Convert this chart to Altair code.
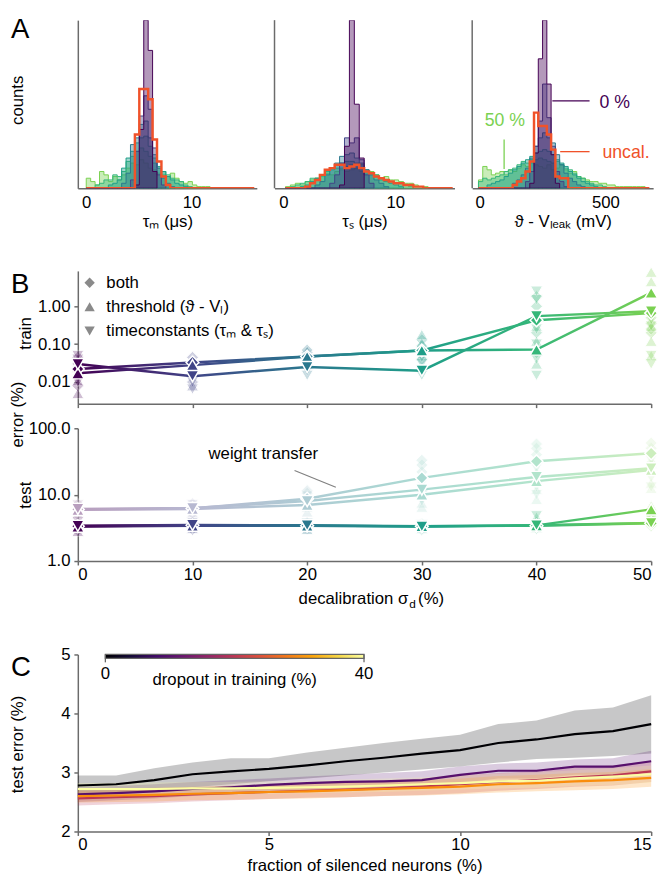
import altair as alt
import pandas as pd

FONT = "Liberation Sans"
AXC = "#6b6b6b"
FS = 17

# ---------------- Panel A: histogram bin counts (relative units) ----------------
level_names = ["0 %", "10 %", "20 %", "30 %", "40 %", "50 %"]
level_colors = ["#440154", "#414487", "#2a788e", "#1f9e89", "#35b779", "#7ad151"]
uncal_color = "#f0522a"

tm_edge0, tm_width = 0.0, 0.42
tm_0 = [0,0,0,0,0,0,0,0,0,0,0,2,35,100,82,10]
tm_10 = [0,0,0,0,0,0,0,0,0,0,5,22,43,55,47,24,8,2]
tm_20 = [0,0,0,0,0,0,0,0,3,9,26,30,38,40,30,20,12,6,3,1]
tm_30 = [0,0,0,0,0,2,3,5,12,18,22,27,30,31,25,18,13,10,7,5,3,2,1]
tm_40 = [0,0,2,3,5,5,8,7,10,16,19,22,24,22,19,15,12,10,8,6,5,4,2,1]
tm_50 = [6,4,2,10,8,4,7,5,8,12,15,14,17,15,12,11,9,8,7,9,6,4,3,4,2,1,1,1]
tm_uncal = [0,0,0,0,0,0,0,0,0,0,0,32,59,59,53,29,16,7,2,0,0,0,0,0,0,0,0,0,0,0,0,0,0,0,0,0,0,0]

ts_edge0, ts_width = 0.18, 0.44
ts_0 = [0,0,0,0,0,0,0,0,0,0,0,2,25,100,50,18]
ts_10 = [0,0,0,0,0,0,0,0,0,3,8,15,30,27,30,17,8,3]
ts_20 = [0,0,0,0,0,0,2,4,8,12,15,19,20,21,18,15,11,8,5,3,1]
ts_30 = [0,0,0,1,2,4,6,8,11,12,14,15,16,16,15,14,11,9,7,5,4,3,2,1]
ts_40 = [0,1,2,3,4,6,6,8,10,11,12,12,13,14,12,12,10,9,8,6,5,4,3,2,2,1]
ts_50 = [1,2,3,2,4,5,6,7,9,8,10,11,10,11,12,10,9,10,8,6,7,5,5,4,3,3,2,1,1]
ts_uncal = [0,0,0,0,1,3,5,8,11,12,14,14,12,13,14,12,10,9,7,6,5,4,3,3,2,2,1,1,0,0,0,0,0,0]

th_edge0, th_width = -5.0, 17.0
th_0 = [0,0,0,0,0,0,0,0,0,0,0,0,3,21,77,100,62,20,3]
th_10 = [0,0,0,0,0,0,0,0,0,0,0,4,10,25,40,62,42,25,10,4,1]
th_20 = [0,0,0,0,0,0,0,0,3,5,8,12,18,25,30,33,30,27,20,14,9,6,4,2,1]
th_30 = [0,0,2,3,4,5,7,9,11,13,15,17,19,21,22,23,22,20,17,15,13,10,8,6,4,3,2,1]
th_40 = [4,6,5,6,7,8,10,11,12,14,16,15,17,17,18,17,16,15,16,14,12,11,9,7,6,4,3,2,2,1]
th_50 = [5,13,11,8,9,10,8,11,10,12,14,13,15,14,13,12,14,11,12,14,11,9,10,7,6,5,4,4,3,3,2,2,1,1,1,1,1,1,1]
th_uncal = [0,0,0,0,0,0,0,0,2,4,6,10,16,45,37,37,32,23,7,6,6,0,0,0,0,0,0,0,0,0,0,0,0,0,0,0,0,0,0,0]

# ---------------- Panel B ----------------
decal = [0, 10, 20, 30, 40, 50]
series_names = ["both", "threshold", "timeconstants"]
train_both = [0.022, 0.033, 0.047, 0.068, 0.43, 0.66]
train_thr = [0.017, 0.028, 0.047, 0.068, 0.072, 2.3]
train_tc = [0.030, 0.0143, 0.025, 0.020, 0.55, 0.74]
train_both_runs = [[0.008,0.014,0.03,0.045],[0.01,0.02,0.045],[0.035,0.06,0.07],[0.04,0.09,0.13],[0.06,0.2,1.0,1.8],[0.2,0.25,0.35,0.5]]
train_thr_runs = [[0.005,0.011,0.025,0.04],[0.008,0.018,0.04],[0.03,0.055,0.065],[0.05,0.11,0.18],[0.03,0.12,0.3],[0.05,0.12,0.3,4.5,8.0]]
train_tc_runs = [[0.01,0.02,0.04,0.05],[0.0065,0.01,0.02],[0.015,0.02,0.035],[0.015,0.03,0.045],[0.015,0.04,0.1,0.25,1.5,2.5],[0.03,0.05,0.3,0.45]]

test_both = [3.35, 3.45, 3.40, 3.35, 3.40, 3.70]
test_thr = [3.30, 3.40, 3.40, 3.35, 3.45, 6.00]
test_tc = [3.40, 3.50, 3.45, 3.30, 3.45, 3.75]
wt_both = [6.0, 6.2, 8.7, 17.9, 31.8, 42.0]
wt_thr = [5.9, 6.1, 7.0, 10.0, 16.0, 23.5]
wt_tc = [6.1, 6.3, 8.0, 11.9, 18.5, 25.0]
test_both_runs = [[2.9,3.8],[3.0,3.8],[3.1,3.7],[3.0,3.6],[3.1,3.8],[3.4,4.0]]
test_thr_runs = [[2.8,3.8],[3.1,3.7],[3.0,3.8],[3.1,3.6],[3.2,4.6],[4.8,5.5,6.8]]
test_tc_runs = [[3.0,3.9],[3.1,3.8],[3.1,3.7],[3.0,3.5],[3.1,4.8],[3.3,4.2]]
wt_both_runs = [[5.0,7.2],[5.2,7.3],[7.5,10.5,11.5],[9,22,28,33],[20,40,50,58],[30,50,60]]
wt_thr_runs = [[5.2,6.8],[5.4,6.9],[5.5,6.5],[6.5,7.5,13],[8.5,12,22],[12.5,15,30]]
wt_tc_runs = [[5.4,7.0],[5.5,7.1],[6.5,9.5],[8.0,14.5],[10,13,25],[13,18,33]]

# ---------------- Panel C ----------------
silenced = [0,1,2,3,4,5,6,7,8,9,10,11,12,13,14,15]
dropout_levels = [0, 10, 20, 30, 40]
c0_mean = [2.78,2.80,2.87,2.97,3.02,3.06,3.12,3.19,3.25,3.32,3.38,3.50,3.56,3.65,3.70,3.82]
c0_hi = [2.95,2.95,3.07,3.17,3.24,3.24,3.34,3.42,3.50,3.57,3.64,3.82,3.88,4.05,4.10,4.31]
c0_lo = [2.63,2.65,2.68,2.75,2.80,2.85,2.90,2.95,3.00,3.05,3.10,3.17,3.23,3.25,3.28,3.32]
c10_mean = [2.63,2.65,2.68,2.72,2.75,2.79,2.82,2.84,2.85,2.87,2.96,3.03,3.03,3.10,3.10,3.19]
c10_hi = [2.75,2.77,2.80,2.84,2.87,2.90,2.93,2.96,2.99,3.02,3.10,3.15,3.17,3.22,3.24,3.37]
c10_lo = [2.50,2.53,2.56,2.60,2.63,2.67,2.70,2.72,2.73,2.74,2.82,2.90,2.90,2.96,2.96,3.00]
c20_mean = [2.56,2.58,2.60,2.63,2.65,2.67,2.69,2.71,2.73,2.76,2.80,2.84,2.87,2.92,2.95,3.02]
c20_hi = [2.68,2.70,2.72,2.75,2.78,2.80,2.82,2.85,2.87,2.90,2.95,2.99,3.02,3.08,3.12,3.20]
c20_lo = [2.44,2.46,2.48,2.51,2.53,2.55,2.57,2.58,2.60,2.62,2.65,2.69,2.72,2.76,2.78,2.84]
c30_mean = [2.60,2.61,2.62,2.64,2.65,2.67,2.68,2.70,2.72,2.74,2.76,2.80,2.82,2.85,2.87,2.91]
c30_hi = [2.72,2.73,2.74,2.76,2.77,2.79,2.81,2.83,2.85,2.87,2.90,2.94,2.96,2.99,3.01,3.06]
c30_lo = [2.49,2.50,2.51,2.53,2.54,2.55,2.56,2.58,2.60,2.61,2.63,2.66,2.68,2.70,2.72,2.76]
c40_mean = [2.72,2.72,2.72,2.73,2.73,2.74,2.75,2.76,2.78,2.80,2.82,2.85,2.86,2.90,2.93,2.97]
c40_hi = [2.82,2.82,2.83,2.84,2.84,2.85,2.86,2.88,2.90,2.92,2.95,2.98,3.00,3.04,3.07,3.12]
c40_lo = [2.62,2.62,2.62,2.63,2.63,2.64,2.65,2.66,2.67,2.69,2.71,2.73,2.74,2.77,2.79,2.83]

inferno_stops = ["#000004", "#160b39", "#420a68", "#6a176e", "#932667", "#bc3754",
                 "#dd513a", "#f37819", "#fca50a", "#f6d746", "#fcffa4"]


def mix_white(h, t):
    r, g, b = int(h[1:3], 16), int(h[3:5], 16), int(h[5:7], 16)
    return "#%02x%02x%02x" % tuple(int(round(c + (255 - c) * t)) for c in (r, g, b))


light_colors = [mix_white(c, 0.62) for c in level_colors]


def grad(cols):
    n = len(cols) - 1
    return alt.LinearGradient(gradient="linear",
                              stops=[alt.GradientStop(color=c, offset=i / n) for i, c in enumerate(cols)],
                              x1=0, x2=1, y1=0, y2=0)


def one(label):
    return pd.DataFrame({"t": [label]})


# ================= Panel A =================
def hist_df(counts, edge0, width):
    rows = [{"x": edge0 + width * k, "c": v} for k, v in enumerate(counts)]
    rows.append({"x": edge0 + width * len(counts), "c": 0})
    return pd.DataFrame(rows)


yA = alt.Y("c:Q", scale=alt.Scale(domain=[0, 100], nice=False),
           axis=alt.Axis(title="counts", labels=False, ticks=False, grid=False,
                         titleX=-69, titleY=81, titleAngle=270, titleAlign="center",
                         titleBaseline="top"))


def xA(dom, rng, vals, title):
    return alt.X("x:Q", scale=alt.Scale(domain=dom, range=rng, nice=False, zero=False),
                 axis=alt.Axis(orient="bottom", values=vals, title=title, ticks=False,
                               grid=False, labelPadding=7, titlePadding=3, format="d"))


def hist_panel(series, uncal, edge0, width, x_enc, extra):
    layers = []
    for counts, col in reversed(list(zip(series, level_colors))):
        layers.append(
            alt.Chart(hist_df(counts, edge0, width))
            .mark_area(interpolate="step-after", color=col, fillOpacity=0.4, stroke=col,
                       strokeWidth=1, clip=True)
            .encode(x=x_enc, y=yA))
    layers.append(
        alt.Chart(hist_df(uncal, edge0, width))
        .mark_line(interpolate="step-after", color=uncal_color, strokeWidth=2.5, clip=True)
        .encode(x=x_enc, y=yA))
    return alt.layer(*layers, *extra)


x1 = xA([-0.8, 16.2], [0, 182], [0, 10], "τₘ (μs)")
x2 = xA([-0.8, 15.3], [200, 383], [0, 10], "τₛ (μs)")
x3 = xA([-30, 690], [401, 585], [0, 500], "ϑ - Vₗₑₐₖ (mV)")


def vline(px):
    return (alt.Chart(one("")).mark_rule(color=AXC, strokeWidth=1.5)
            .encode(x=alt.value(px), y=alt.value(0), y2=alt.value(171)))


ann3 = [
    alt.Chart(pd.DataFrame({"x": [289], "x2": [437], "c": [52], "c2": [52]}))
    .mark_rule(color=level_colors[0], strokeWidth=1.3)
    .encode(x=x3, x2="x2:Q", y=yA, y2="c2:Q"),
    alt.Chart(pd.DataFrame({"x": [477], "c": [50.5], "t": ["0 %"]}))
    .mark_text(align="left", baseline="middle", fontSize=18, color=level_colors[0])
    .encode(x=x3, y=yA, text="t:N"),
    alt.Chart(pd.DataFrame({"x": [320], "x2": [437], "c": [21.8], "c2": [21.8]}))
    .mark_rule(color=uncal_color, strokeWidth=1.3)
    .encode(x=x3, x2="x2:Q", y=yA, y2="c2:Q"),
    alt.Chart(pd.DataFrame({"x": [488], "c": [21.2], "t": ["uncal."]}))
    .mark_text(align="left", baseline="middle", fontSize=18, color=uncal_color)
    .encode(x=x3, y=yA, text="t:N"),
    alt.Chart(pd.DataFrame({"x": [97], "x2": [97], "c": [11.5], "c2": [29]}))
    .mark_rule(color=level_colors[5], strokeWidth=1.3)
    .encode(x=x3, x2="x2:Q", y=yA, y2="c2:Q"),
    alt.Chart(pd.DataFrame({"x": [100], "c": [40], "t": ["50 %"]}))
    .mark_text(align="center", baseline="middle", fontSize=18, color=level_colors[5])
    .encode(x=x3, y=yA, text="t:N"),
]

pA1 = hist_panel([tm_0, tm_10, tm_20, tm_30, tm_40, tm_50], tm_uncal, tm_edge0, tm_width, x1, [])
pA2 = hist_panel([ts_0, ts_10, ts_20, ts_30, ts_40, ts_50], ts_uncal, ts_edge0, ts_width, x2, [vline(200)])
pA3 = hist_panel([th_0, th_10, th_20, th_30, th_40, th_50], th_uncal, th_edge0, th_width, x3, [vline(401)] + ann3)
labA = (alt.Chart(one("A")).mark_text(fontSize=28, align="left", baseline="top")
        .encode(x=alt.value(-68), y=alt.value(-4), text="t:N"))

chartA = (alt.layer(pA1, pA2, pA3, labA)
          .resolve_scale(x="independent").resolve_axis(x="independent")
          .properties(width=585, height=171))


# ================= Panel B =================
def main_df(kind, named):
    rows = []
    for name, vals in named:
        for x, v in zip(decal, vals):
            rows.append({"x": x, "v": v, "s": name, "ck": f"{kind}{x}"})
    return pd.DataFrame(rows)


def runs_df(kind, named):
    rows = []
    for name, runs in named:
        for x, vs in zip(decal, runs):
            for v in vs:
                rows.append({"x": x, "v": v, "s": name, "ck": f"{kind}{x}"})
    return pd.DataFrame(rows)


ckeys = [f"d{x}" for x in decal] + [f"l{x}" for x in decal]
colB = alt.Color("ck:N", scale=alt.Scale(domain=ckeys, range=level_colors + light_colors), legend=None)
shapeB = alt.Shape("s:N", scale=alt.Scale(domain=series_names,
                                          range=["diamond", "triangle-up", "triangle-down"]), legend=None)
xB_train = alt.X("x:Q", scale=alt.Scale(domain=[0, 50], nice=False),
                 axis=alt.Axis(values=decal, labels=False, title=None, grid=False))
xB_test = alt.X("x:Q", scale=alt.Scale(domain=[0, 50], nice=False),
                axis=alt.Axis(values=decal, title=None, grid=False, format="d", labelPadding=2))
y_train = alt.Y("v:Q", scale=alt.Scale(type="log", domain=[0.00268, 8.6], nice=False),
                axis=alt.Axis(values=[0.01, 0.1, 1], format=".2f", title="train", grid=False,
                              titleX=-61.5, titleY=63, titleAngle=270, titleAlign="center",
                              titleBaseline="top", labelPadding=4))
y_test = alt.Y("v:Q", scale=alt.Scale(type="log", domain=[1, 100], nice=False),
               axis=alt.Axis(values=[1, 10, 100], format=".1f", title="test", grid=False,
                             titleX=-61.5, titleY=67.5, titleAngle=270, titleAlign="center",
                             titleBaseline="top", labelPadding=4))


def markers(df, xe, ye, faint):
    if faint:
        m = alt.Chart(df).mark_point(filled=True, size=150, opacity=0.25, stroke="white", strokeWidth=1)
    else:
        m = alt.Chart(df).mark_point(filled=True, size=170, opacity=1, stroke="white", strokeWidth=1.5)
    return m.encode(x=xe, y=ye, color=colB, shape=shapeB)


def lines(df, xe, ye, cols):
    return alt.Chart(df).mark_line(color=grad(cols), strokeWidth=2.5).encode(x=xe, y=ye, detail="s:N")


train_main = main_df("d", [("both", train_both), ("threshold", train_thr), ("timeconstants", train_tc)])
train_runs = runs_df("d", [("both", train_both_runs), ("threshold", train_thr_runs), ("timeconstants", train_tc_runs)])

legend_items = [("both", "diamond"), ("threshold (ϑ - Vₗ)", "triangle-up"),
                ("timeconstants (τₘ & τₛ)", "triangle-down")]
legend_layers = []
for i, (lab, shp) in enumerate(legend_items):
    yy = 12 + 24.5 * i
    legend_layers.append(alt.Chart(one(lab)).mark_point(shape=shp, filled=True, color="#8a8a8a",
                                                        size=110, opacity=1)
                         .encode(x=alt.value(12), y=alt.value(yy)))
    legend_layers.append(alt.Chart(one(lab)).mark_text(align="left", baseline="middle", fontSize=FS)
                         .encode(x=alt.value(29), y=alt.value(yy), text="t:N"))
labB = (alt.Chart(one("B")).mark_text(fontSize=28, align="left", baseline="top")
        .encode(x=alt.value(-68), y=alt.value(0), text="t:N"))

chartTrain = alt.layer(
    markers(train_runs, xB_train, y_train, True),
    lines(train_main, xB_train, y_train, level_colors),
    markers(train_main, xB_train, y_train, False),
    *legend_layers, labB,
).properties(width=583, height=135)

test_main = main_df("d", [("both", test_both), ("threshold", test_thr), ("timeconstants", test_tc)])
wt_main = main_df("l", [("both", wt_both), ("threshold", wt_thr), ("timeconstants", wt_tc)])
test_runs = pd.concat([
    runs_df("d", [("both", test_both_runs), ("threshold", test_thr_runs), ("timeconstants", test_tc_runs)]),
    runs_df("l", [("both", wt_both_runs), ("threshold", wt_thr_runs), ("timeconstants", wt_tc_runs)]),
], ignore_index=True)

wt_note = pd.DataFrame({"x": [18.9], "x2": [22.5], "v": [23.1], "v2": [12.9]})
wt_text = pd.DataFrame({"x": [11.4], "v": [41.2], "t": ["weight transfer"]})

test_extra = [
    alt.Chart(wt_note).mark_rule(color="#808080", strokeWidth=1.2)
    .encode(x=xB_test, x2="x2:Q", y=y_test, y2="v2:Q"),
    alt.Chart(wt_text).mark_text(align="left", baseline="middle", fontSize=FS)
    .encode(x=xB_test, y=y_test, text="t:N"),
    alt.Chart(one("error (%)")).mark_text(angle=270, align="center", baseline="top", fontSize=FS)
    .encode(x=alt.value(-69), y=alt.value(-14), text="t:N"),
    alt.Chart(one("decalibration σ")).mark_text(align="right", baseline="middle", fontSize=FS)
    .encode(x=alt.value(336), y=alt.value(174), text="t:N"),
    alt.Chart(one("d")).mark_text(align="left", baseline="middle", fontSize=12)
    .encode(x=alt.value(337), y=alt.value(179), text="t:N"),
    alt.Chart(one("(%)")).mark_text(align="left", baseline="middle", fontSize=FS)
    .encode(x=alt.value(346), y=alt.value(174), text="t:N"),
]

chartTest = alt.layer(
    markers(test_runs, xB_test, y_test, True),
    lines(wt_main, xB_test, y_test, light_colors),
    lines(test_main, xB_test, y_test, level_colors),
    markers(wt_main, xB_test, y_test, False),
    markers(test_main, xB_test, y_test, False),
    *test_extra,
).properties(width=583, height=135)

# ================= Panel C =================
c_rows = []
for d, m, lo, hi in zip(dropout_levels,
                        [c0_mean, c10_mean, c20_mean, c30_mean, c40_mean],
                        [c0_lo, c10_lo, c20_lo, c30_lo, c40_lo],
                        [c0_hi, c10_hi, c20_hi, c30_hi, c40_hi]):
    for x, a, b, c in zip(silenced, m, lo, hi):
        c_rows.append({"x": x, "d": d, "m": a, "lo": b, "hi": c})
dfC = pd.DataFrame(c_rows)

xC = alt.X("x:Q", scale=alt.Scale(domain=[0, 15], nice=False),
           axis=alt.Axis(values=[0, 5, 10, 15], title="fraction of silenced neurons (%)", grid=False,
                         labelPadding=1, titlePadding=6))
yC_scale = alt.Scale(domain=[2, 5], nice=False)
yC_axis = alt.Axis(values=[2, 3, 4, 5], title="test error (%)", grid=False, titleX=-69, titleY=91,
                   titleAngle=270, titleAlign="center", titleBaseline="top", labelPadding=4)
colC = alt.Color("d:Q", scale=alt.Scale(scheme="inferno", domain=[0, 40]), legend=None)

bandsC = alt.Chart(dfC).mark_area(opacity=0.22).encode(
    x=xC, y=alt.Y("lo:Q", scale=yC_scale, axis=yC_axis), y2="hi:Q", color=colC, detail="d:O")
linesC = alt.Chart(dfC).mark_line(strokeWidth=2.2).encode(
    x=xC, y=alt.Y("m:Q", scale=yC_scale, axis=yC_axis), color=colC, detail="d:O")
labC = (alt.Chart(one("C")).mark_text(fontSize=28, align="left", baseline="top")
        .encode(x=alt.value(-68), y=alt.value(0), text="t:N"))

# colour bar (legend for dropout in training)
cbar = [
    alt.Chart(one("")).mark_rect(fill=grad(inferno_stops), stroke="#666666", strokeWidth=1.3)
    .encode(x=alt.value(28), x2=alt.value(291), y=alt.value(0), y2=alt.value(4)),
    alt.Chart(one("")).mark_rule(color="#666666", strokeWidth=1.3)
    .encode(x=alt.value(28), y=alt.value(0), y2=alt.value(8)),
    alt.Chart(one("")).mark_rule(color="#666666", strokeWidth=1.3)
    .encode(x=alt.value(291), y=alt.value(0), y2=alt.value(8)),
    alt.Chart(one(str(dropout_levels[0]))).mark_text(align="center", baseline="top", fontSize=FS)
    .encode(x=alt.value(28), y=alt.value(12), text="t:N"),
    alt.Chart(one(str(dropout_levels[-1]))).mark_text(align="center", baseline="top", fontSize=FS)
    .encode(x=alt.value(291), y=alt.value(12), text="t:N"),
    alt.Chart(one("dropout in training (%)")).mark_text(align="center", baseline="top", fontSize=FS)
    .encode(x=alt.value(159.5), y=alt.value(18), text="t:N"),
]

chartC = alt.layer(bandsC, linesC, *cbar, labC).properties(width=583, height=180)


def spacer(h):
    return (alt.Chart(one("")).mark_point(opacity=0)
            .encode(x=alt.value(0), y=alt.value(0)).properties(width=10, height=h))


chart = (
    alt.vconcat(chartA, spacer(34), chartTrain, chartTest, spacer(45), chartC,
                spacing=25, bounds="flush")
    .resolve_scale(color="independent", shape="independent")
    .resolve_legend(color="independent", shape="independent")
    .properties(padding={"left": 0, "top": 0, "right": 0, "bottom": 0}, background="white")
    .configure_view(stroke="transparent")
    .configure_axis(domainColor=AXC, domainWidth=1.5, tickColor=AXC, tickWidth=1.5, tickSize=4,
                    labelFont=FONT, titleFont=FONT, labelFontSize=FS, titleFontSize=FS,
                    titleFontWeight="normal", labelColor="black", titleColor="black")
    .configure_text(font=FONT)
    .configure_legend(labelFont=FONT, titleFont=FONT, labelColor="black", titleColor="black")
)

chart.save("out.html", embed_options={"renderer": "svg", "actions": False})
